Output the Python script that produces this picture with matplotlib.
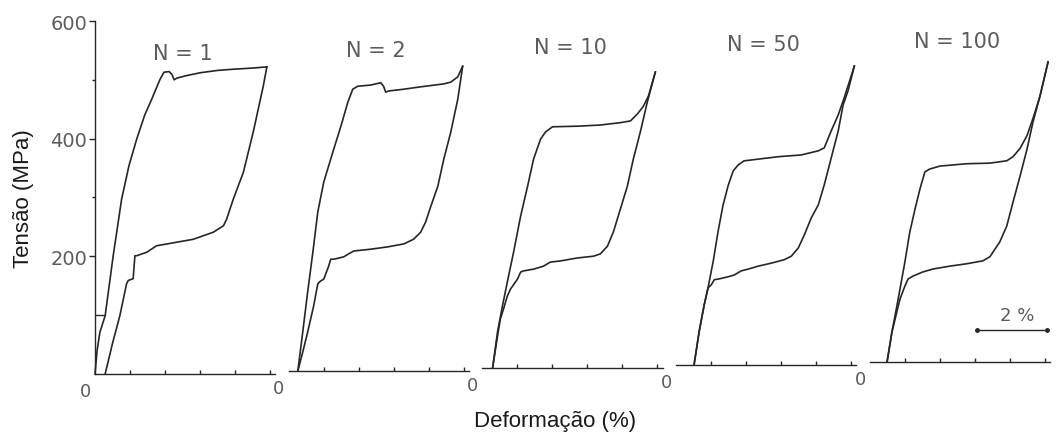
"""Ciclos de tensão-deformação superelásticos para N = 1, 2, 10, 50 e 100"""
import numpy as np, matplotlib
matplotlib.use("Agg")
import matplotlib.pyplot as plt
from matplotlib.transforms import offset_copy

CYCLES = [1, 2, 10, 50, 100]

# (deformação %, tensão MPa) medidos a partir da origem de cada painel
LOAD_N1 = [(0.0, 0), (0.06, 40), (0.14, 71), (0.29, 99), (0.52, 201), (0.76, 297),
           (0.97, 354), (1.19, 399), (1.42, 440), (1.62, 467), (1.86, 501), (1.97, 513),
           (2.12, 514), (2.2, 509), (2.26, 500), (2.34, 503), (2.6, 507), (3.0, 512),
           (3.5, 516), (3.94, 518), (4.5, 520), (4.91, 522)]
UNLOAD_N1 = [(4.91, 522), (4.81, 490), (4.52, 411), (4.24, 343), (3.95, 297), (3.76, 263),
             (3.67, 252), (3.38, 241), (2.81, 229), (2.05, 221), (1.76, 218), (1.48, 207),
             (1.19, 201), (1.14, 201), (1.09, 162), (0.95, 159), (0.9, 153), (0.71, 99),
             (0.5, 52), (0.29, 0)]

LOAD_N2 = [(0.26, 0), (0.40, 66), (0.54, 134), (0.69, 202), (0.83, 270), (1.0, 321),
           (1.26, 372), (1.49, 416), (1.69, 457), (1.83, 479), (1.97, 484), (2.34, 486),
           (2.63, 490), (2.71, 484), (2.77, 474), (2.86, 476), (3.29, 479), (3.77, 483),
           (4.43, 488), (4.63, 491), (4.83, 500), (4.97, 518)]
UNLOAD_N2 = [(4.97, 518), (4.83, 462), (4.63, 406), (4.43, 360), (4.26, 314), (4.06, 280),
             (3.91, 253), (3.77, 236), (3.57, 224), (3.29, 216), (2.83, 211), (2.34, 207),
             (1.86, 204), (1.71, 199), (1.57, 194), (1.29, 190), (1.2, 190), (1.14, 178),
             (1.0, 156), (0.91, 153), (0.83, 148), (0.71, 110), (0.54, 66), (0.40, 32),
             (0.26, 0)]

LOAD_N10 = [(0.29, 0), (0.43, 61), (0.57, 105), (0.71, 146), (0.89, 197), (1.09, 258),
            (1.29, 309), (1.46, 355), (1.66, 389), (1.8, 401), (2.0, 410), (2.71, 411),
            (3.37, 413), (3.94, 417), (4.23, 420), (4.43, 432), (4.6, 445), (4.74, 462),
            (4.94, 503)]
UNLOAD_N10 = [(4.94, 503), (4.71, 452), (4.51, 401), (4.31, 355), (4.14, 309), (3.94, 270),
              (3.74, 231), (3.57, 207), (3.37, 194), (3.17, 190), (2.71, 187), (2.23, 182),
              (1.94, 180), (1.74, 173), (1.46, 168), (1.17, 165), (1.09, 163), (1.0, 151),
              (0.8, 134), (0.71, 122), (0.6, 100), (0.51, 83), (0.43, 54), (0.29, 0)]

LOAD_N50 = [(0.51, 0), (0.66, 58), (0.8, 102), (0.91, 131), (1.06, 177), (1.2, 228),
            (1.34, 272), (1.49, 306), (1.63, 330), (1.77, 340), (1.94, 347), (2.91, 354),
            (3.57, 357), (4.06, 364), (4.23, 369), (4.43, 398), (4.63, 425), (4.8, 454),
            (5.09, 508)]
UNLOAD_N50 = [(5.09, 508), (4.91, 466), (4.77, 442), (4.63, 398), (4.43, 352), (4.23, 306),
              (4.06, 272), (3.86, 250), (3.66, 221), (3.49, 199), (3.29, 185), (3.09, 179),
              (2.71, 173), (2.34, 168), (2.06, 163), (1.86, 160), (1.66, 153), (1.49, 150),
              (1.2, 146), (1.09, 145), (1.0, 136), (0.91, 131), (0.8, 102), (0.66, 58),
              (0.51, 0)]

LOAD_N100 = [(0.49, 0), (0.63, 51), (0.77, 95), (0.86, 124), (1.0, 170), (1.14, 221),
             (1.29, 260), (1.43, 294), (1.57, 323), (1.71, 328), (2.0, 333), (2.77, 337),
             (3.43, 338), (3.91, 342), (4.09, 349), (4.29, 363), (4.49, 385), (4.66, 414),
             (4.86, 452), (5.09, 510)]
UNLOAD_N100 = [(5.09, 510), (4.86, 452), (4.66, 408), (4.49, 362), (4.29, 316), (4.09, 272),
               (3.91, 231), (3.71, 204), (3.43, 179), (3.23, 172), (2.77, 167), (2.29, 163),
               (1.8, 158), (1.51, 153), (1.23, 146), (1.09, 141), (1.0, 129), (0.86, 107),
               (0.77, 85), (0.63, 51), (0.49, 0)]

LOADING = [LOAD_N1, LOAD_N2, LOAD_N10, LOAD_N50, LOAD_N100]
UNLOADING = [UNLOAD_N1, UNLOAD_N2, UNLOAD_N10, UNLOAD_N50, UNLOAD_N100]

STRAIN_TICKS = [1, 2, 3, 4, 5]
SCALE_BAR = 2  # %

INK = "#262626"
LETTER = "#5c5c5c"
PANEL_GAP = 5.535   # distância entre as origens dos painéis (%)
AXIS_LEN = 5.15
TILT_PX = 3         # a folha original está ligeiramente inclinada

fig = plt.figure(figsize=(10.58, 4.35), dpi=100, facecolor="white")
ax = fig.add_axes([0, 0, 1, 1])
ax.set_xlim(-95 / 35, (1058 - 95) / 35)
ax.set_ylim(-102, 637.4)

for sp in ("top", "right", "bottom"):
    ax.spines[sp].set_visible(False)
ax.spines["left"].set_position(("data", 0))
ax.spines["left"].set_bounds(0, 600)
ax.spines["left"].set_color(INK)
ax.spines["left"].set_linewidth(1.0)
ax.set_xticks([])
ax.set_yticks([200, 400, 600])
ax.set_yticks([300, 500], minor=True)
ax.tick_params(axis="y", which="major", direction="out", length=4.5, width=1.0,
               color=INK, labelcolor=LETTER, labelsize=14, pad=1)
ax.tick_params(axis="y", which="minor", direction="out", length=2.5, width=1.0, color=INK)
ax.hlines(100, 0, 0.29, color=INK, lw=1.0)

for i, (n, load, unload) in enumerate(zip(CYCLES, LOADING, UNLOADING)):
    tr = offset_copy(ax.transData, fig=fig, x=0, y=i * TILT_PX, units="dots")
    x0 = i * PANEL_GAP
    for curve in (load, unload):
        e, s = np.array(curve, dtype=float).T
        ax.plot(x0 + e, s, color=INK, lw=1.2, transform=tr, solid_joinstyle="round")
    # eixo de deformação de cada ciclo
    ax.plot([x0, x0 + AXIS_LEN], [0, 0], color=INK, lw=1.0, transform=tr)
    ax.plot(x0 + np.array(STRAIN_TICKS), np.zeros(len(STRAIN_TICKS)), ls="none",
            marker=2, ms=3, mew=1.0, color=INK, transform=tr)
    ax.text(x0 - 0.28, -29, "0", ha="center", va="center", fontsize=13,
            color=LETTER, transform=tr)
    ax.text(x0 + 2.5, 545, f"N = {n}", ha="center", va="center", fontsize=15,
            color=LETTER, transform=tr)

# barra de escala no último painel
tr = offset_copy(ax.transData, fig=fig, x=0, y=4 * TILT_PX, units="dots")
bx = 4 * PANEL_GAP + 3.06
ax.plot([bx, bx + SCALE_BAR], [54, 54], color=INK, lw=1.0, marker="o", ms=2.5, transform=tr)
ax.text(bx + SCALE_BAR / 2 + 0.14, 80, f"{SCALE_BAR} %", ha="center", va="center",
        fontsize=13, color=LETTER, transform=tr)

ax.set_ylabel("Tensão (MPa)", fontsize=16, family="Liberation Sans", color="#1a1a1a", va="center")
ax.yaxis.set_label_coords(23 / 1058, 1 - 199 / 435)
ax.set_xlabel("Deformação (%)", fontsize=16, family="Liberation Sans", color="#1a1a1a", va="center")
ax.xaxis.set_label_coords(555 / 1058, 1 - 422 / 435)

fig.savefig("out.png", dpi=100, facecolor="white")
